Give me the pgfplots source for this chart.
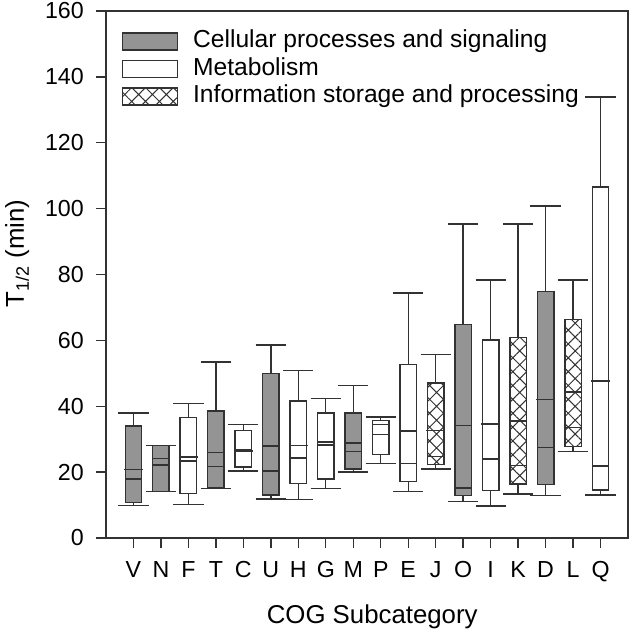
\documentclass[border=0pt]{standalone}
\usepackage{pgfplots}
\pgfplotsset{compat=1.18}
\usepgfplotslibrary{statistics}
\usetikzlibrary{patterns.meta,calc}
\usepackage{fontspec}
\setmainfont{Liberation Sans}

\definecolor{boxgray}{RGB}{148,148,148}
\definecolor{linegray}{RGB}{50,50,50}

\tikzset{
  cellular/.style={fill=boxgray},
  metab/.style={fill=white},
  info/.style={pattern={Hatch[angle=45,distance=4.9pt,line width=0.5pt]},pattern color=linegray},
}

% #1 style, #2 position, #3 lower whisker, #4 q1, #5 median, #6 q3, #7 upper whisker, #8 mean
\newcommand{\bx}[8]{%
  \addplot[#1, draw=linegray, line width=0.7pt, forget plot,
    boxplot prepared={draw position=#2, lower whisker=#3, lower quartile=#4,
      median=#5, upper quartile=#6, upper whisker=#7, average=#8}]
    coordinates {};
}
\newcommand{\legimg}[1]{%
  \addlegendimage{legend image code/.code={%
    \draw[draw=linegray, line width=0.7pt, #1] (0pt,-4.25pt) rectangle (27.5pt,4.25pt);
    \path (35pt,0pt);}}%
}

\begin{document}
\begin{tikzpicture}
\begin{axis}[
  name=ax,
  scale only axis,
  width=261pt, height=263.5pt,
  xmin=0, xmax=19, ymin=0, ymax=160,
  xtick={1,...,18},
  xticklabels={V,N,F,T,C,U,H,G,M,P,E,J,O,I,K,D,L,Q},
  ytick={0,20,...,160},
  tick pos=left,
  tick align=outside,
  major tick length=5pt,
  axis line style={linegray, line width=0.7pt},
  every tick/.style={linegray, line width=0.7pt},
  ticklabel style={font=\fontsize{11.6}{13}\selectfont},
  xticklabel style={yshift=-3pt},
  yticklabel style={xshift=-2.6pt},
  /pgf/number format/assume math mode=true,
  xlabel={COG Subcategory},
  ylabel={T\textsubscript{1/2} (min)},
  label style={font=\fontsize{12.9}{15}\selectfont},
  xlabel style={at={(axis description cs:0.51,0)}, anchor=base, yshift=-42.5pt},
  ylabel style={at={(axis description cs:-0.17,0.54)}, anchor=center},
  boxplot/draw direction=y,
  boxplot/box extend=0.6,
  boxplot/whisker extend=1.1,
  boxplot/every box/.style={line width=0.7pt},
  boxplot/every whisker/.style={line width=0.7pt},
  boxplot/every median/.style={line width=0.7pt},
  boxplot/every average/.style={/tikz/mark=-, /tikz/mark size=4.6pt,
    /tikz/mark options={line width=1.6pt, draw=black}},
  legend cell align=left,
  legend style={draw=none, fill=none, font=\fontsize{12.3}{14}\selectfont,
    at={(axis description cs:0.03,0.965)}, anchor=north west,
    inner xsep=0pt, inner ysep=0pt, row sep=2.25pt,
    nodes={inner sep=0pt, text height=9pt, text depth=2.5pt}},
]
\legimg{fill=boxgray}
\addlegendentry{Cellular processes and signaling}
\legimg{fill=white}
\addlegendentry{Metabolism}
\legimg{pattern={Hatch[angle=45,distance=4.9pt,line width=0.5pt]}, pattern color=linegray}
\addlegendentry{Information storage and processing}

\bx{cellular}{1}{9.8}{10.8}{17.9}{34.0}{37.9}{20.8}
\bx{cellular}{2}{14.1}{14.1}{24.1}{28.0}{28.0}{22.2}
\bx{metab}{3}{10.2}{13.6}{23.4}{36.5}{40.9}{24.6}
\bx{cellular}{4}{15.1}{15.3}{21.7}{38.6}{53.4}{26.0}
\bx{metab}{5}{20.4}{21.5}{26.8}{32.6}{34.4}{26.4}
\bx{cellular}{6}{11.9}{13.1}{20.4}{50.0}{58.6}{27.9}
\bx{metab}{7}{11.6}{16.6}{24.3}{41.6}{50.8}{28.1}
\bx{metab}{8}{15.0}{17.9}{29.2}{38.0}{42.3}{28.2}
\bx{cellular}{9}{20.0}{20.9}{26.3}{38.0}{46.3}{28.9}
\bx{metab}{10}{22.6}{25.4}{34.5}{35.7}{36.7}{31.4}
\bx{metab}{11}{14.1}{17.1}{22.6}{52.7}{74.4}{32.5}
\bx{info}{12}{20.9}{22.3}{24.7}{47.0}{55.7}{32.7}
\bx{cellular}{13}{11.0}{12.9}{15.2}{64.9}{95.3}{34.1}
\bx{metab}{14}{9.7}{14.4}{24.0}{60.1}{78.3}{34.6}
\bx{info}{15}{13.4}{16.4}{22.1}{60.9}{95.3}{35.5}
\bx{cellular}{16}{12.9}{16.3}{27.5}{74.9}{100.8}{42.0}
\bx{info}{17}{26.2}{27.8}{33.5}{66.4}{78.3}{44.3}
\bx{metab}{18}{13.0}{14.6}{21.9}{106.6}{133.9}{47.7}
\end{axis}
\pgfresetboundingbox
\path[use as bounding box] ($(ax.south west)+(-53pt,-48.5pt)$) rectangle ($(ax.north east)+(1pt,5.5pt)$);
\end{tikzpicture}
\end{document}
